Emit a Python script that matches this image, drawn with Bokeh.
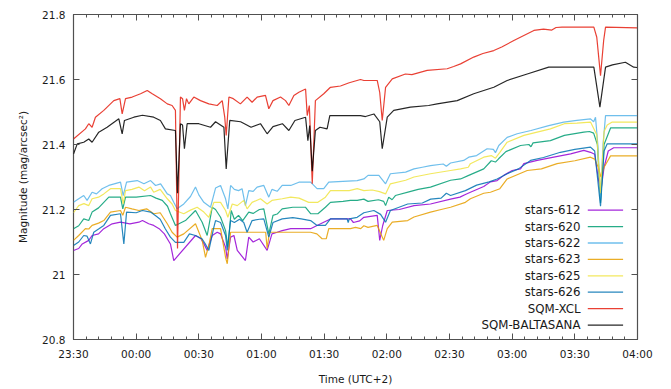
import numpy as np
import pandas as pd
from bokeh.plotting import figure
from bokeh.models import (Range1d, FixedTicker, DatetimeTickFormatter, LinearAxis,
                          DatetimeAxis, CustomJSTickFormatter, ColumnDataSource)
from bokeh.core.properties import value
from bokeh.embed import file_html
from bokeh.resources import INLINE

# ---------------- data (minutes after 23:30, magnitude) ----------------
t_612 = [0, 2.5, 4.2, 7.3, 8.9, 12, 14.5, 18.5, 22.5, 27, 31.3, 33, 36, 38.4, 41, 43.5, 46.4, 48.0,
         58.4, 61, 62.4, 64.0, 66.4, 68.8, 70.4, 72.8, 73.6, 75.2, 76.8, 78.4, 82.3, 83.9, 86, 89,
         92.7, 95, 97.5, 99.9, 104, 113.5, 116.6, 123.0, 132.6, 134, 137, 139, 145.4, 146.6, 148,
         150.2, 156, 163, 170.9, 180.5, 185, 187.6, 190, 196.4, 199.6, 202.8, 206, 210, 214, 215.6,
         222, 229.9, 238, 244.3, 247.5, 249.5, 252.3, 254, 256, 258.6, 269.8]
m_612 = [21.074, 21.080, 21.094, 21.105, 21.120, 21.125, 21.141, 21.156, 21.161, 21.156, 21.161,
         21.166, 21.156, 21.151, 21.141, 21.125, 21.094, 21.043, 21.120, 21.110, 21.095, 21.074,
         21.120, 21.130, 21.125, 21.084, 21.048, 21.115, 21.120, 21.074, 21.043, 21.115, 21.100,
         21.110, 21.074, 21.125, 21.130, 21.135, 21.141, 21.141, 21.151, 21.171, 21.171, 21.160,
         21.165, 21.176, 21.182, 21.105, 21.150, 21.197, 21.200, 21.212, 21.217, 21.232, 21.238,
         21.246, 21.253, 21.271, 21.285, 21.289, 21.305, 21.320, 21.325, 21.341, 21.351, 21.361,
         21.371, 21.382, 21.376, 21.370, 21.250, 21.330, 21.380, 21.390, 21.390]

t_620 = [0, 2.5, 4.9, 7.3, 8.9, 12, 14.5, 16.9, 22.5, 23.6, 24.9, 30, 36.9, 39.5, 42.5, 45, 46.4,
         48.8, 53.6, 58.4, 61.6, 64.0, 66.4, 68, 70.4, 72.8, 73.9, 75.5, 77, 79, 81, 83.9, 86, 89,
         91.1, 93.5, 95.5, 97.5, 99.9, 105, 111, 113.5, 117, 120.6, 123.0, 129, 132.6, 135.8, 139,
         141, 146, 148.5, 149.4, 150.9, 152.5, 154.1, 161, 165, 170.9, 180.5, 185.3, 189.2, 196.4,
         200, 202, 203.5, 207, 214, 218, 219, 220, 228.3, 235, 244.3, 247, 249, 250.8, 252.3, 254,
         257.1, 269.8]
m_620 = [21.141, 21.150, 21.171, 21.166, 21.192, 21.205, 21.222, 21.238, 21.238, 21.202, 21.238,
         21.238, 21.243, 21.235, 21.228, 21.210, 21.187, 21.151, 21.166, 21.197, 21.161, 21.120,
         21.207, 21.200, 21.176, 21.135, 21.084, 21.197, 21.170, 21.182, 21.166, 21.192, 21.188,
         21.200, 21.202, 21.125, 21.182, 21.186, 21.202, 21.207, 21.207, 21.187, 21.187, 21.207,
         21.222, 21.225, 21.228, 21.228, 21.232, 21.225, 21.230, 21.225, 21.212, 21.238, 21.230,
         21.243, 21.255, 21.262, 21.269, 21.290, 21.294, 21.305, 21.325, 21.350, 21.346, 21.356,
         21.378, 21.397, 21.400, 21.393, 21.405, 21.412, 21.428, 21.438, 21.440, 21.435, 21.400,
         21.220, 21.400, 21.451, 21.451]

t_622 = [0, 2.5, 4.9, 6.5, 8.9, 11, 13.7, 16.9, 22.5, 23.8, 25.4, 30.5, 33.7, 36.9, 39.3, 41.7,
         44.9, 46.4, 48.0, 49.6, 52.8, 56, 58.4, 60, 62.4, 65.6, 68.0, 70.4, 72.8, 73.9, 75.2, 77,
         79, 80.7, 82.3, 83.9, 86, 87.9, 91.1, 93.5, 95, 97.5, 99.9, 104, 107.9, 113.5, 116.6,
         119.8, 122.2, 135.8, 139, 141, 146.2, 149.4, 151.7, 159, 163, 167, 170.9, 177, 178.5,
         180.5, 186.8, 189.2, 193, 198, 201, 202, 203.6, 207.6, 212.4, 219, 227.5, 234.7, 241,
         247.5, 249, 249.9, 251, 252.3, 253.5, 254.7, 269.8]
m_622 = [21.222, 21.233, 21.243, 21.228, 21.253, 21.248, 21.264, 21.274, 21.284, 21.243, 21.284,
         21.289, 21.279, 21.289, 21.274, 21.279, 21.248, 21.243, 21.222, 21.202, 21.217, 21.240,
         21.269, 21.245, 21.222, 21.207, 21.266, 21.274, 21.233, 21.202, 21.274, 21.262, 21.258,
         21.264, 21.212, 21.258, 21.256, 21.269, 21.274, 21.238, 21.262, 21.256, 21.274, 21.274,
         21.284, 21.284, 21.264, 21.264, 21.284, 21.289, 21.294, 21.305, 21.305, 21.279, 21.310,
         21.315, 21.325, 21.330, 21.335, 21.340, 21.333, 21.343, 21.351, 21.361, 21.366, 21.387,
         21.385, 21.375, 21.397, 21.422, 21.433, 21.443, 21.458, 21.469, 21.474, 21.479, 21.470,
         21.484, 21.400, 21.230, 21.400, 21.489, 21.489]

t_623 = [0, 2.5, 5.7, 7.3, 8.9, 12, 14.5, 17.7, 22.5, 23.6, 24.9, 28, 31.3, 35, 38.4, 41.5, 44.9,
         47.2, 49.6, 52.8, 58.4, 61.6, 63.2, 64.8, 66.4, 70.4, 72.8, 73.6, 75.2, 92, 92.7, 93.8,
         113.5, 116.5, 119.0, 121, 122.2, 132.6, 135, 137.5, 139, 141, 145.4, 148.5, 150.2, 152.6,
         160, 163, 170.9, 176, 180.5, 187.6, 190.0, 196.4, 199.6, 204.1, 207.6, 217.2, 224, 231.5,
         240, 247.5, 249.5, 251.2, 252.5, 254, 257.1, 269.8]
m_623 = [21.105, 21.120, 21.141, 21.140, 21.151, 21.158, 21.166, 21.192, 21.197, 21.182, 21.207,
         21.202, 21.197, 21.202, 21.187, 21.190, 21.156, 21.130, 21.115, 21.125, 21.156, 21.105,
         21.053, 21.090, 21.141, 21.141, 21.053, 21.033, 21.130, 21.130, 21.080, 21.130, 21.130,
         21.125, 21.110, 21.110, 21.141, 21.141, 21.145, 21.141, 21.150, 21.145, 21.151, 21.105,
         21.141, 21.161, 21.166, 21.177, 21.192, 21.200, 21.207, 21.222, 21.233, 21.250, 21.253,
         21.264, 21.294, 21.320, 21.325, 21.341, 21.350, 21.361, 21.355, 21.330, 21.300, 21.330,
         21.365, 21.365]

t_625 = [0, 2.5, 5, 7.3, 8.9, 12, 14.5, 17.7, 22.5, 23.8, 24.9, 28, 31.3, 34, 36.9, 38.4, 41.5,
         44.9, 47.2, 48.8, 52.8, 56, 59.2, 62.4, 64.8, 67.2, 70.4, 72.8, 73.9, 76.0, 78.4, 81.5,
         83.1, 85.5, 89.5, 92.7, 95, 99.9, 104, 108, 112.6, 117, 120.6, 123.0, 132, 135.8, 139, 143,
         146.5, 149.4, 151.7, 159, 163, 170.9, 180.5, 185.3, 189, 190, 196.4, 200, 202, 204.1,
         207.6, 215.6, 228.3, 235, 241, 247.5, 250.5, 252.3, 254, 255.5, 257.9, 269.8]
m_625 = [21.190, 21.212, 21.218, 21.212, 21.233, 21.238, 21.248, 21.264, 21.264, 21.217, 21.258,
         21.262, 21.269, 21.258, 21.269, 21.253, 21.262, 21.233, 21.217, 21.197, 21.187, 21.198,
         21.207, 21.192, 21.176, 21.222, 21.222, 21.197, 21.176, 21.217, 21.212, 21.228, 21.202,
         21.222, 21.233, 21.217, 21.228, 21.233, 21.238, 21.235, 21.222, 21.222, 21.238, 21.258,
         21.258, 21.264, 21.258, 21.260, 21.255, 21.248, 21.279, 21.290, 21.300, 21.310, 21.320,
         21.325, 21.330, 21.341, 21.361, 21.366, 21.358, 21.376, 21.407, 21.428, 21.448, 21.464,
         21.466, 21.469, 21.430, 21.250, 21.440, 21.460, 21.469, 21.469]

t_626 = [0, 2.5, 4.9, 6.5, 8.1, 9.7, 12, 14.5, 17.7, 22.5, 24.1, 25.4, 30, 33, 36.9, 39.5, 41.5,
         44, 46.4, 48.8, 52.8, 55.5, 58.4, 61.5, 63, 64.8, 67.2, 68.0, 70.4, 72.8, 73.6, 75.2, 77,
         79.5, 81.5, 83.1, 85.5, 89, 91.1, 93.5, 95.5, 99.9, 105, 109, 113.5, 116.6, 120.6, 123.0,
         131, 131.5, 132, 135.8, 139, 143.8, 147, 149.4, 151.7, 160, 167, 171, 176, 178.5, 180.5,
         187.6, 193, 199, 202.8, 207.6, 213, 218.8, 225, 233.1, 240, 247.5, 249.5, 252.3, 254,
         255.5, 269.8]
m_626 = [21.089, 21.100, 21.120, 21.118, 21.094, 21.130, 21.140, 21.151, 21.182, 21.187, 21.094,
         21.192, 21.190, 21.197, 21.192, 21.180, 21.170, 21.140, 21.115, 21.099, 21.099, 21.125,
         21.120, 21.110, 21.095, 21.074, 21.146, 21.166, 21.160, 21.120, 21.074, 21.166, 21.160,
         21.170, 21.160, 21.130, 21.166, 21.170, 21.171, 21.115, 21.160, 21.171, 21.175, 21.171,
         21.166, 21.151, 21.151, 21.171, 21.171, 21.160, 21.171, 21.176, 21.190, 21.197, 21.185,
         21.161, 21.197, 21.217, 21.220, 21.232, 21.235, 21.250, 21.243, 21.258, 21.275, 21.285,
         21.294, 21.310, 21.325, 21.351, 21.360, 21.376, 21.385, 21.392, 21.380, 21.210, 21.380,
         21.402, 21.402]

t_xcl = [0, 5.7, 7.3, 8.9, 10.5, 14.5, 19.3, 22.2, 23.3, 24.9, 28.1, 32.1, 35.3, 37.7, 41.6, 44.9,
         47.2, 48.8, 49.8, 51.2, 52.2, 53.1, 54.1, 55.2, 57.6, 60.8, 64.8, 68.8, 71.2, 72.4, 73.1,
         74.4, 76.5, 79.9, 83.1, 85.5, 87.9, 91.9, 93.5, 95.5, 99.1, 101.5, 103.1, 105.5, 107.9,
         111.1, 111.9, 112.9, 114.3, 115.8, 119.8, 123.0, 127.8, 132, 137.4, 139, 145.4, 146.6,
         147.8, 149.4, 152.6, 158.9, 162, 169.3, 178.9, 182, 185.3, 191.6, 196, 201.2, 205, 210.8,
         220.4, 225, 229, 231, 233.9, 249.1, 250.5, 252.3, 253.8, 254.7, 269.8]
m_xcl = [21.417, 21.448, 21.464, 21.453, 21.484, 21.505, 21.535, 21.541, 21.494, 21.541, 21.546,
         21.556, 21.566, 21.556, 21.541, 21.525, 21.520, 21.505, 21.080, 21.546, 21.541, 21.505,
         21.541, 21.525, 21.546, 21.535, 21.525, 21.520, 21.535, 21.484, 21.428, 21.546, 21.541,
         21.525, 21.546, 21.530, 21.546, 21.551, 21.510, 21.535, 21.546, 21.535, 21.520, 21.551,
         21.561, 21.571, 21.489, 21.520, 21.279, 21.535, 21.556, 21.576, 21.580, 21.590, 21.600,
         21.597, 21.597, 21.560, 21.474, 21.576, 21.602, 21.617, 21.615, 21.628, 21.633, 21.640,
         21.648, 21.669, 21.680, 21.689, 21.700, 21.720, 21.751, 21.755, 21.752, 21.760, 21.761,
         21.761, 21.730, 21.612, 21.720, 21.761, 21.759]

t_balt = [0, 1.8, 4.9, 7.3, 8.9, 12.1, 16.1, 21.7, 23.3, 24.4, 28.9, 33, 38.4, 41.6, 44.0, 48.8,
          49.8, 51.2, 52.2, 53.1, 54.4, 60, 65.6, 68, 72.0, 73.1, 74.8, 80, 85, 89.5, 92.7, 95.5,
          100, 103.1, 106, 111.1, 112.2, 113.1, 114.3, 115.8, 118, 121.4, 122.7, 137.4, 139.8,
          143.8, 146.6, 147.8, 150.2, 153.3, 161.3, 170, 174.1, 183.7, 191.6, 201.2, 207.6, 217.2,
          227.5, 249.1, 252.0, 254.7, 258, 264.2, 268.2, 269.8]
m_balt = [21.371, 21.402, 21.407, 21.417, 21.407, 21.438, 21.453, 21.479, 21.433, 21.474, 21.484,
          21.490, 21.484, 21.474, 21.448, 21.443, 21.250, 21.464, 21.460, 21.387, 21.464, 21.464,
          21.453, 21.470, 21.453, 21.325, 21.474, 21.470, 21.453, 21.464, 21.433, 21.455, 21.464,
          21.443, 21.474, 21.484, 21.412, 21.458, 21.318, 21.443, 21.453, 21.448, 21.489, 21.489,
          21.486, 21.494, 21.470, 21.387, 21.484, 21.505, 21.515, 21.520, 21.525, 21.535, 21.556,
          21.576, 21.597, 21.617, 21.638, 21.638, 21.515, 21.638, 21.645, 21.653, 21.638, 21.637]

names = ["stars-612", "stars-620", "stars-622", "stars-623", "stars-625", "stars-626",
         "SQM-XCL", "SQM-BALTASANA"]
colors = ["#9400d3", "#009e73", "#56b4e9", "#e69f00", "#f0e442", "#0072b2", "#e51e10", "#000000"]
series_t = [t_612, t_620, t_622, t_623, t_625, t_626, t_xcl, t_balt]
series_m = [m_612, m_620, m_622, m_623, m_625, m_626, m_xcl, m_balt]

x_tick_minutes = list(range(0, 271, 30))
x_minor_minutes = list(range(0, 271, 6))
y_ticks = [20.8, 21.0, 21.2, 21.4, 21.6, 21.8]

# ---------------- helpers ----------------
start = pd.Timestamp("2020-01-01 23:30")
epoch = pd.Timestamp("1970-01-01")


def to_dt(mins):
    return start + pd.to_timedelta(np.asarray(mins, dtype=float), unit="m")


def to_ms(mins):
    return [((start + pd.Timedelta(minutes=m)) - epoch) / pd.Timedelta(milliseconds=1) for m in mins]


FONT = "DejaVu Sans"
TXT = "#1a1a1a"
BORDER = "#505050"

p = figure(width=671, height=389, x_axis_type="datetime",
           x_range=Range1d(start, start + pd.Timedelta(minutes=270)),
           y_range=Range1d(20.8, 21.8),
           output_backend="svg", toolbar_location=None,
           min_border_left=73, min_border_right=34, min_border_top=14, min_border_bottom=50)

p.background_fill_color = "white"
p.border_fill_color = "white"
p.xgrid.visible = False
p.ygrid.visible = False
p.outline_line_color = BORDER
p.outline_line_width = 1.2

xt = FixedTicker(ticks=to_ms(x_tick_minutes), minor_ticks=to_ms(x_minor_minutes))
yt = FixedTicker(ticks=y_ticks, minor_ticks=[])
fmt = DatetimeTickFormatter(minsec="%H:%M", minutes="%H:%M", hourmin="%H:%M", hours="%H:%M",
                            days="%H:%M", context=None)


def style_axis(ax, ticker):
    ax.ticker = ticker
    ax.axis_line_color = None
    ax.major_tick_in = 6
    ax.major_tick_out = 0
    ax.minor_tick_in = 3
    ax.minor_tick_out = 0
    ax.major_tick_line_color = BORDER
    ax.minor_tick_line_color = BORDER
    ax.major_label_text_font = FONT
    ax.major_label_text_font_size = "10.5px"
    ax.major_label_text_color = TXT
    ax.axis_label_text_font = FONT
    ax.axis_label_text_font_size = "10.5px"
    ax.axis_label_text_font_style = "normal"
    ax.axis_label_text_color = TXT


xa = p.xaxis[0]
style_axis(xa, xt)
xa.formatter = fmt
xa.major_label_standoff = 8
xa.axis_label = "Time (UTC+2)"
xa.axis_label_standoff = 10

ya = p.yaxis[0]
style_axis(ya, yt)
ya.formatter = CustomJSTickFormatter(code="return tick.toFixed(1).replace(/\\.0$/, '');")
ya.major_label_standoff = 8
ya.axis_label = "Magnitude (mag/arcsec²)"
ya.axis_label_standoff = 10

blank = CustomJSTickFormatter(code="return '';")
top = DatetimeAxis()
style_axis(top, xt)
top.formatter = blank
top.major_label_standoff = 0
top.major_label_text_font_size = "1px"
p.add_layout(top, "above")

right = LinearAxis()
style_axis(right, yt)
right.formatter = blank
right.major_label_standoff = 0
right.major_label_text_font_size = "1px"
p.add_layout(right, "right")

for t, m, c in zip(series_t, series_m, colors):
    src = ColumnDataSource(dict(x=to_dt(t), y=m))
    p.line("x", "y", source=src, line_color=c, line_width=1.2, line_alpha=0.85)

# ---------------- key (gnuplot style: text right, sample on the right) ----------------
key_text_min = 242.7
key_line_min = (246.2, 263.1)
key_top = 21.198
key_step = 0.0505
ys = [key_top - i * key_step for i in range(len(names))]
key_src = ColumnDataSource(dict(
    x=to_dt([key_text_min] * len(names)), y=ys, text=names,
    x0=to_dt([key_line_min[0]] * len(names)), x1=to_dt([key_line_min[1]] * len(names)),
    color=colors))
p.text("x", "y", text="text", source=key_src, text_align="right", text_baseline="middle",
       text_font=value(FONT), text_font_size="11.8px", text_color=TXT)
p.segment("x0", "y", "x1", "y", source=key_src, line_color="color", line_width=1.3, line_alpha=0.85)

open("out.html", "w").write(file_html(p, INLINE))
